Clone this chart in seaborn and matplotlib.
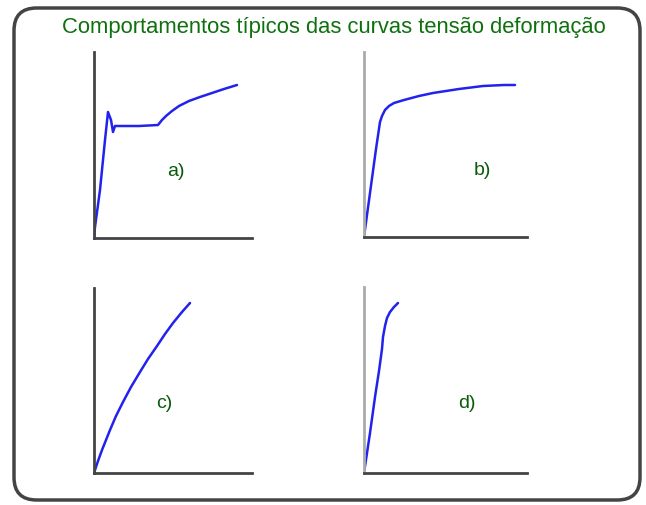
import matplotlib
matplotlib.use("Agg")
import matplotlib.pyplot as plt
import pandas as pd
import seaborn as sns
from matplotlib.patches import FancyBboxPatch

# curves (strain, stress) in arbitrary units
a_strain = [0, 1, 6, 11, 14, 17, 19, 21, 23, 45, 64, 68, 72, 78, 85, 95, 106, 118, 130, 143]
a_stress = [0, 11, 48, 98, 126, 118, 106, 112, 112, 112, 113, 118, 122, 127, 132, 137, 141, 145, 149, 153]

b_strain = [0, 6, 12, 16, 18, 21, 25, 30, 40, 55, 69, 95, 119, 140, 151]
b_stress = [0, 44, 88, 115, 121, 127, 131, 134, 137, 141, 144, 148, 151, 152, 152]

c_strain = [0, 4, 8, 16, 22, 29, 37, 46, 54, 63, 71, 79, 88, 96]
c_stress = [0, 12, 23, 43, 57, 71, 86, 101, 114, 127, 139, 150, 161, 170]

d_strain = [0, 6, 11, 15, 18, 19, 21, 23, 26, 30, 34]
d_stress = [0, 40, 76, 102, 124, 136, 147, 155, 161, 166, 170]

labels = ["a)", "b)", "c)", "d)"]
title = "Comportamentos típicos das curvas tensão deformação"

sns.set_style("white")
plt.rcParams['font.family'] = ['Liberation Sans', 'DejaVu Sans']

W, H = 646, 505
fig = plt.figure(figsize=(W / 100, H / 100), dpi=100)

# rounded frame around everything
frame = FancyBboxPatch((14 / W, 1 - 500 / H), 626 / W, 492 / H,
                       boxstyle="round,pad=0,rounding_size=0.035",
                       transform=fig.transFigure, fill=False,
                       edgecolor="#444444", linewidth=2.5, mutation_aspect=W / H)
fig.patches.append(frame)

fig.text(334 / W, 1 - 27 / H, title, ha="center", va="center",
         color="#0e700e", fontsize=15.8)

# (left, right, top, bottom) in pixels, label position
panels = [
    (a_strain, a_stress, (94, 252, 52, 238), (176, 171), "#444444"),
    (b_strain, b_stress, (364, 527, 52, 237), (482, 170), "#aaaaaa"),
    (c_strain, c_stress, (94, 252, 288, 473), (164, 404), "#444444"),
    (d_strain, d_stress, (364, 527, 287, 473), (467, 404), "#aaaaaa"),
]

for (xs, ys, (l, r, t, b), (lx, ly), ycol), lab in zip(panels, labels):
    ax = fig.add_axes([l / W, 1 - b / H, (r - l) / W, (b - t) / H])
    df = pd.DataFrame({"strain": xs, "stress": ys})
    sns.lineplot(data=df, x="strain", y="stress", sort=False, ax=ax,
                 color="#2222ee", linewidth=1.8)
    ax.set_xlim(0, r - l)
    ax.set_ylim(0, b - t)
    ax.set_xticks([])
    ax.set_yticks([])
    ax.set_xlabel("")
    ax.set_ylabel("")
    sns.despine(ax=ax)
    ax.spines["left"].set_color(ycol)
    ax.spines["bottom"].set_color("#444444")
    ax.spines["left"].set_linewidth(2)
    ax.spines["bottom"].set_linewidth(2)
    ax.patch.set_alpha(0)
    fig.text(lx / W, 1 - ly / H, lab, ha="center", va="center",
             color="#0b5a0b", fontsize=14)

fig.savefig("out.png", dpi=100)
